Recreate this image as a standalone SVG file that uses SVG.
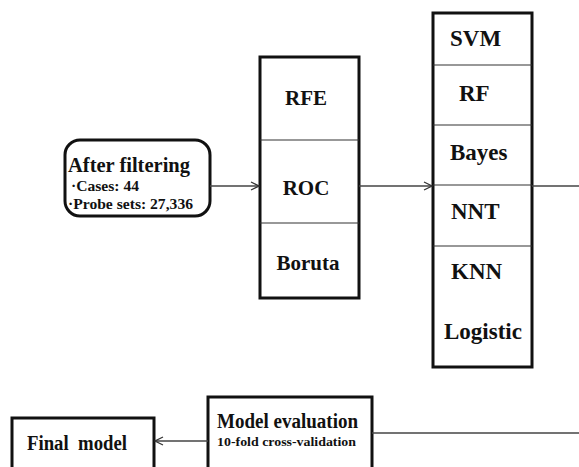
<svg xmlns="http://www.w3.org/2000/svg" width="579" height="467" viewBox="0 0 579 467">
  <defs>
    <marker id="arrow" viewBox="0 0 10 10" refX="9" refY="5" markerWidth="10" markerHeight="10" markerUnits="userSpaceOnUse" orient="auto">
      <path d="M1,1 L9,5 L1,9" fill="none" stroke="#333" stroke-width="1.2"/>
    </marker>
  </defs>
  <style>
    .box { fill: #fff; stroke: #111; stroke-width: 3; }
    .div { stroke: #333; stroke-width: 1.2; fill: none; }
    .conn { stroke: #444; stroke-width: 1.3; fill: none; }
    .mid { text-anchor: middle; }
  </style>
  <rect width="579" height="467" fill="#fff"/>

  <g font-family="Liberation Serif" font-weight="bold" fill="#111" font-size="19">
    <!-- input data -->
    <g id="filtering">
      <rect class="box" x="65" y="140" width="145" height="76" rx="15" ry="15"/>
      <text x="68" y="172" font-size="20" textLength="122" lengthAdjust="spacingAndGlyphs">After filtering</text>
      <text x="71" y="191" font-size="14" textLength="68" lengthAdjust="spacingAndGlyphs">·Cases: 44</text>
      <text x="68" y="209" font-size="14" textLength="125" lengthAdjust="spacingAndGlyphs">·Probe sets: 27,336</text>
    </g>

    <!-- feature selection -->
    <g id="selection" font-size="21">
      <rect class="box" x="260" y="57" width="99" height="241"/>
      <line class="div" x1="260" y1="140" x2="359" y2="140"/>
      <line class="div" x1="260" y1="223" x2="359" y2="223"/>
      <text class="mid" x="306" y="105">RFE</text>
      <text class="mid" x="306" y="195">ROC</text>
      <text class="mid" x="308" y="270">Boruta</text>
    </g>

    <!-- classifiers -->
    <g id="classifiers" font-size="23">
      <rect class="box" x="433" y="13" width="99" height="354"/>
      <line class="div" x1="433" y1="65" x2="532" y2="65"/>
      <line class="div" x1="433" y1="125" x2="532" y2="125"/>
      <line class="div" x1="433" y1="185" x2="532" y2="185"/>
      <line class="div" x1="433" y1="246" x2="532" y2="246"/>
      <text x="450" y="46">SVM</text>
      <text x="459" y="101">RF</text>
      <text x="450" y="160">Bayes</text>
      <text x="451" y="219">NNT</text>
      <text x="451" y="279">KNN</text>
      <text x="444" y="339">Logistic</text>
    </g>

    <!-- evaluation -->
    <g id="evaluation">
      <rect class="box" x="208" y="397" width="164" height="80"/>
      <text x="217" y="428" font-size="20" textLength="141" lengthAdjust="spacingAndGlyphs">Model evaluation</text>
      <text x="217" y="446" font-size="13" textLength="139" lengthAdjust="spacingAndGlyphs">10-fold cross-validation</text>
    </g>

    <!-- final model -->
    <g id="final">
      <rect class="box" x="12" y="418" width="142" height="60"/>
      <text x="27" y="450" font-size="20" textLength="100" lengthAdjust="spacingAndGlyphs" xml:space="preserve">Final  model</text>
    </g>
  </g>

  <g id="connectors">
    <line class="conn" x1="210" y1="186" x2="259" y2="186" marker-end="url(#arrow)"/>
    <line class="conn" x1="359" y1="186" x2="432" y2="186" marker-end="url(#arrow)"/>
    <line class="conn" x1="532" y1="186" x2="579" y2="186"/>
    <line class="conn" x1="372" y1="433" x2="579" y2="433"/>
    <line class="conn" x1="208" y1="441" x2="155" y2="441" marker-end="url(#arrow)"/>
  </g>
</svg>
